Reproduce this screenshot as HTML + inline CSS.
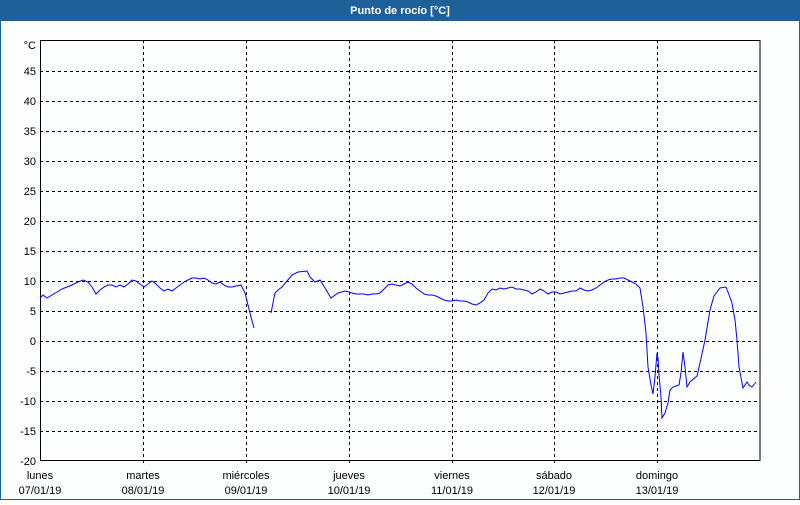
<!DOCTYPE html>
<html><head><meta charset="utf-8"><style>
html,body{margin:0;padding:0;background:#fff}
body{width:800px;height:500px;overflow:hidden;font-family:"Liberation Sans",sans-serif}
</style></head><body>
<svg width="800" height="500" xmlns="http://www.w3.org/2000/svg" font-family="Liberation Sans, sans-serif" font-size="11">
<rect x="0" y="0" width="800" height="500" fill="#fdfefe"/>
<rect x="0" y="0" width="800" height="21" fill="#1e6198"/>
<rect x="0" y="0" width="1" height="500" fill="#1e6198"/>
<rect x="799" y="0" width="1" height="500" fill="#1e6198"/>
<rect x="0" y="499" width="800" height="1" fill="#1e6198"/>
<text x="400" y="14" fill="#fff" font-weight="bold" text-anchor="middle">Punto de rocío [°C]</text>
<g stroke="#000" stroke-dasharray="3,3" stroke-width="1">
<line x1="40" x2="760" y1="71.5" y2="71.5"/><line x1="40" x2="760" y1="101.5" y2="101.5"/>
<line x1="40" x2="760" y1="131.5" y2="131.5"/><line x1="40" x2="760" y1="161.5" y2="161.5"/>
<line x1="40" x2="760" y1="191.5" y2="191.5"/><line x1="40" x2="760" y1="221.5" y2="221.5"/>
<line x1="40" x2="760" y1="251.5" y2="251.5"/><line x1="40" x2="760" y1="281.5" y2="281.5"/>
<line x1="40" x2="760" y1="311.5" y2="311.5"/><line x1="40" x2="760" y1="341.5" y2="341.5"/>
<line x1="40" x2="760" y1="371.5" y2="371.5"/><line x1="40" x2="760" y1="401.5" y2="401.5"/>
<line x1="40" x2="760" y1="431.5" y2="431.5"/>
<line x1="143.5" x2="143.5" y1="40" y2="465"/><line x1="246.5" x2="246.5" y1="40" y2="465"/>
<line x1="349.5" x2="349.5" y1="40" y2="465"/><line x1="452.5" x2="452.5" y1="40" y2="465"/>
<line x1="554.5" x2="554.5" y1="40" y2="465"/><line x1="657.5" x2="657.5" y1="40" y2="465"/>
</g>
<rect x="40.5" y="40.5" width="719.5" height="420" fill="none" stroke="#000"/>
<g text-anchor="end" fill="#000">
<text x="36" y="49">°C</text><text x="36" y="75">45</text><text x="36" y="105">40</text>
<text x="36" y="135">35</text><text x="36" y="165">30</text><text x="36" y="195">25</text>
<text x="36" y="225">20</text><text x="36" y="255">15</text><text x="36" y="285">10</text>
<text x="36" y="315">5</text><text x="36" y="345">0</text><text x="36" y="375">-5</text>
<text x="36" y="405">-10</text><text x="36" y="435">-15</text><text x="36" y="465">-20</text>
</g>
<g text-anchor="middle" fill="#000">
<text x="40" y="479">lunes</text><text x="40" y="494">07/01/19</text>
<text x="143" y="479">martes</text><text x="143" y="494">08/01/19</text>
<text x="246" y="479">miércoles</text><text x="246" y="494">09/01/19</text>
<text x="349" y="479">jueves</text><text x="349" y="494">10/01/19</text>
<text x="452" y="479">viernes</text><text x="452" y="494">11/01/19</text>
<text x="554" y="479">sábado</text><text x="554" y="494">12/01/19</text>
<text x="657" y="479">domingo</text><text x="657" y="494">13/01/19</text>
</g>
<g fill="none" stroke="#0000ff" stroke-width="1">
<polyline points="40,298 43,295 47,298 52,295 57,292 62,289 67,287 72,285 78,282 83,280 88,282 92,287 96,294 100,290 104,287 108,285 112,285 116,287 120,285 124,287 128,284 132,280 136,281 140,284 144,287 148,284 152,281 156,284 160,288 164,291 168,289 172,291 176,288 180,285 184,282 188,280 192,278 196,278 200,279 204,278 208,280 212,283 216,284 220,282 224,285 228,287 232,287 236,286 241,285 245,293 248,305 251,317 254,328"/>
<polyline points="271,313 275,293 278,290 282,287 287,281 292,275 298,272 307,271 310,277 315,282 320,280 325,288 331,298 338,293 345,291 349,292 352,293 356,294 360,294 364,294 368,295 372,294 376,294 380,293 384,289 388,285 392,284 396,285 400,286 404,284 408,282 412,284 416,288 420,291 424,294 428,295 432,295 436,296 440,298 444,300 448,301 452,301 456,300 460,301 464,301 468,302 472,304 476,305 480,303 484,300 488,293 492,289 496,290 500,288 504,289 508,288 512,287 516,289 520,289 524,290 528,291 532,294 536,292 540,289 544,291 548,294 552,292 556,292 560,294 564,293 568,292 572,291 576,291 580,288 584,290 588,291 592,290 596,288 600,285 604,282 608,280 612,279 616,279 620,278 624,278 628,280 632,282 636,284 640,288 643,307 646,333 648,367 651,385 653,394 655,377 657,353 658,358 659,375 661,397 662,418 665,413 668,403 670,390 673,387 679,385 681,373 683,352 685,367 687,387 690,382 697,376 700,363 705,340 710,310 714,296 717,292 720,288 726,287 728,292 732,303 735,320 737,340 739,367 743,388 747,382 749,385 752,387 756,382"/>
</g>
</svg>
</body></html>
